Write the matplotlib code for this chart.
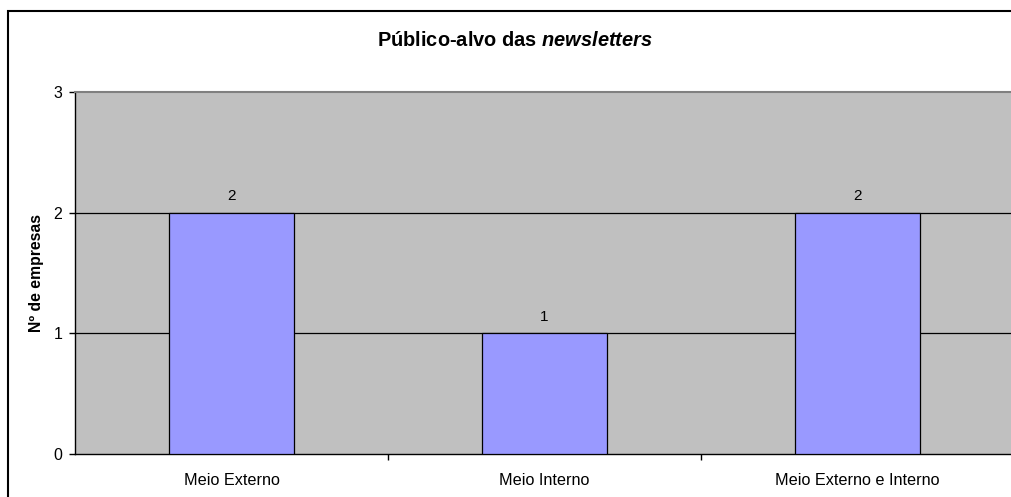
import matplotlib
matplotlib.use("Agg")
import matplotlib.pyplot as plt
from matplotlib.patches import Rectangle

categorias = ["Meio Externo", "Meio Interno", "Meio Externo e Interno"]
empresas = [2, 1, 2]
y_ticks = [0, 1, 2, 3]

plt.rcParams["font.family"] = ["Liberation Sans", "DejaVu Sans"]
plt.rcParams["mathtext.fontset"] = "custom"
plt.rcParams["mathtext.bfit"] = "Liberation Sans:italic:bold"
plt.rcParams["mathtext.it"] = "Liberation Sans:italic"
plt.rcParams["mathtext.rm"] = "Liberation Sans"

fig = plt.figure(figsize=(10.12, 4.97), dpi=100)
W, H = 1012, 497
ax = fig.add_axes([75 / W, (H - 454) / H, 939 / W, 362 / H])
ax.set_facecolor("#C0C0C0")

x = list(range(len(categorias)))
barras = ax.bar(x, empresas, width=0.4, color="#9999FF", edgecolor="black", linewidth=0.9, zorder=3)
for xi, v in zip(x, empresas):
    ax.text(xi, v + 0.08, str(v), ha="center", va="bottom", fontsize=11, zorder=4)

ax.set_xlim(-0.5, len(categorias) - 0.5)
ax.set_ylim(0, 3)
ax.set_yticks(y_ticks)
ax.set_yticklabels([str(t) for t in y_ticks], fontsize=11.5)
ax.set_xticks(x)
ax.set_xticklabels(categorias, fontsize=11.7)
ax.tick_params(axis="x", which="major", length=0, pad=14)
ax.set_xticks([i + 0.5 for i in x[:-1]], minor=True)
ax.tick_params(axis="x", which="minor", length=4, width=1, direction="out")
ax.tick_params(axis="y", length=4, width=1, pad=5)

for yv in y_ticks[1:-1]:
    ax.axhline(yv, color="black", linewidth=0.9, zorder=2)

ax.spines["top"].set_color("#808080")
ax.spines["top"].set_linewidth(1.5)
ax.spines["left"].set_linewidth(1)
ax.spines["bottom"].set_linewidth(1)
ax.spines["right"].set_visible(False)

ax.set_ylabel("Nº de empresas", fontsize=11.3, fontweight="bold", labelpad=7)
fig.text(515 / W, 1 - 40 / H, r"Público-alvo das $\mathbfit{newsletters}$",
         ha="center", va="center", fontsize=14.4, fontweight="bold")

fig.patches.append(Rectangle((8 / W, -0.1), 1.2, (H - 11) / H + 0.1, transform=fig.transFigure,
                             fill=False, edgecolor="black", linewidth=1.5, figure=fig))

plt.savefig("out.png", dpi=100)
